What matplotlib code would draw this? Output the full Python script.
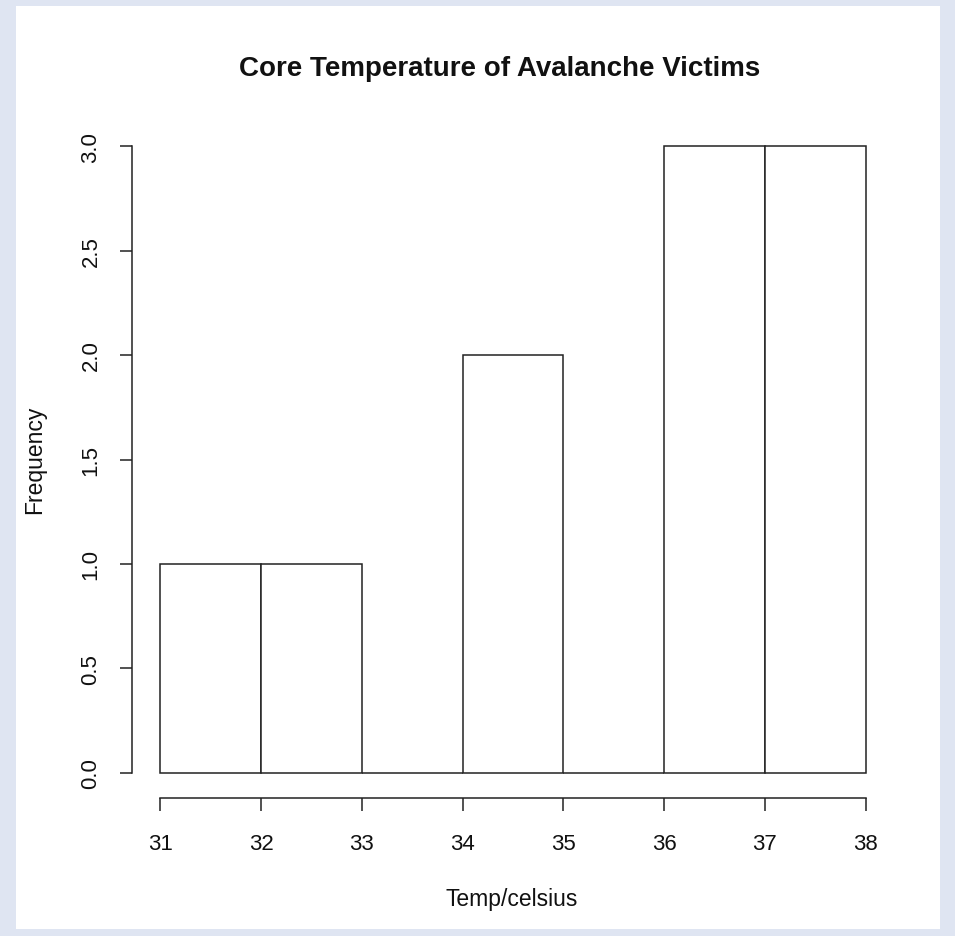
import numpy as np
import matplotlib.pyplot as plt
from matplotlib.patches import Rectangle

plt.rcParams['font.family'] = ['Liberation Sans', 'DejaVu Sans']

# histogram of core temperatures, 1 degree bins
bin_edges = [31, 32, 33, 34, 35, 36, 37, 38]
counts = [1, 1, 0, 2, 0, 3, 3]
x_ticks = [31, 32, 33, 34, 35, 36, 37, 38]
y_ticks = [0.0, 0.5, 1.0, 1.5, 2.0, 2.5, 3.0]

W, H = 955, 937
fig = plt.figure(figsize=(W / 100, H / 100), dpi=100)
fig.patch.set_facecolor('#dfe5f2')
# white panel
fig.patches.append(Rectangle((16 / W, 7 / H), (940 - 16) / W, (930 - 7) / H,
                             transform=fig.transFigure, facecolor='white',
                             edgecolor='none', zorder=-5))

ax = fig.add_axes([132 / W, (H - 799) / H, (894 - 132) / W, (799 - 122) / H])
ax.set_zorder(2)
ax.set_facecolor('none')

lc = '#222222'
lefts = np.array(bin_edges[:-1])
widths = np.diff(bin_edges)
ax.bar(lefts, counts, width=widths, align='edge', facecolor='white',
       edgecolor=lc, linewidth=1.1)

ax.set_xlim(30.72, 38.28)
ax.set_ylim(-0.12, 3.12)

for s in ['top', 'right']:
    ax.spines[s].set_visible(False)
ax.spines['left'].set_bounds(0, 3)
ax.spines['bottom'].set_bounds(31, 38)
for s in ['left', 'bottom']:
    ax.spines[s].set_color(lc)
    ax.spines[s].set_linewidth(1.1)

ax.set_xticks(x_ticks)
ax.set_xticklabels([str(t) for t in x_ticks])
ax.set_yticks(y_ticks)
ax.set_yticklabels(['%.1f' % t for t in y_ticks], rotation=90, va='center')
ax.tick_params(axis='both', direction='out', length=9, width=1.1, color=lc,
               labelsize=16, labelcolor='#111111')
ax.tick_params(axis='x', pad=16)
ax.tick_params(axis='y', pad=13)

fig.text(500 / W, 1 - 69 / H, 'Core Temperature of Avalanche Victims',
         fontsize=20, fontweight='bold', ha='center', va='center', color='#111111')
fig.text(512 / W, 1 - 900 / H, 'Temp/celsius', fontsize=16.5,
         ha='center', va='center', color='#111111')
fig.text(35 / W, 1 - 460 / H, 'Frequency', fontsize=16.5, rotation=90,
         ha='center', va='center', color='#111111')

fig.savefig('out.png', dpi=100, facecolor=fig.get_facecolor())
